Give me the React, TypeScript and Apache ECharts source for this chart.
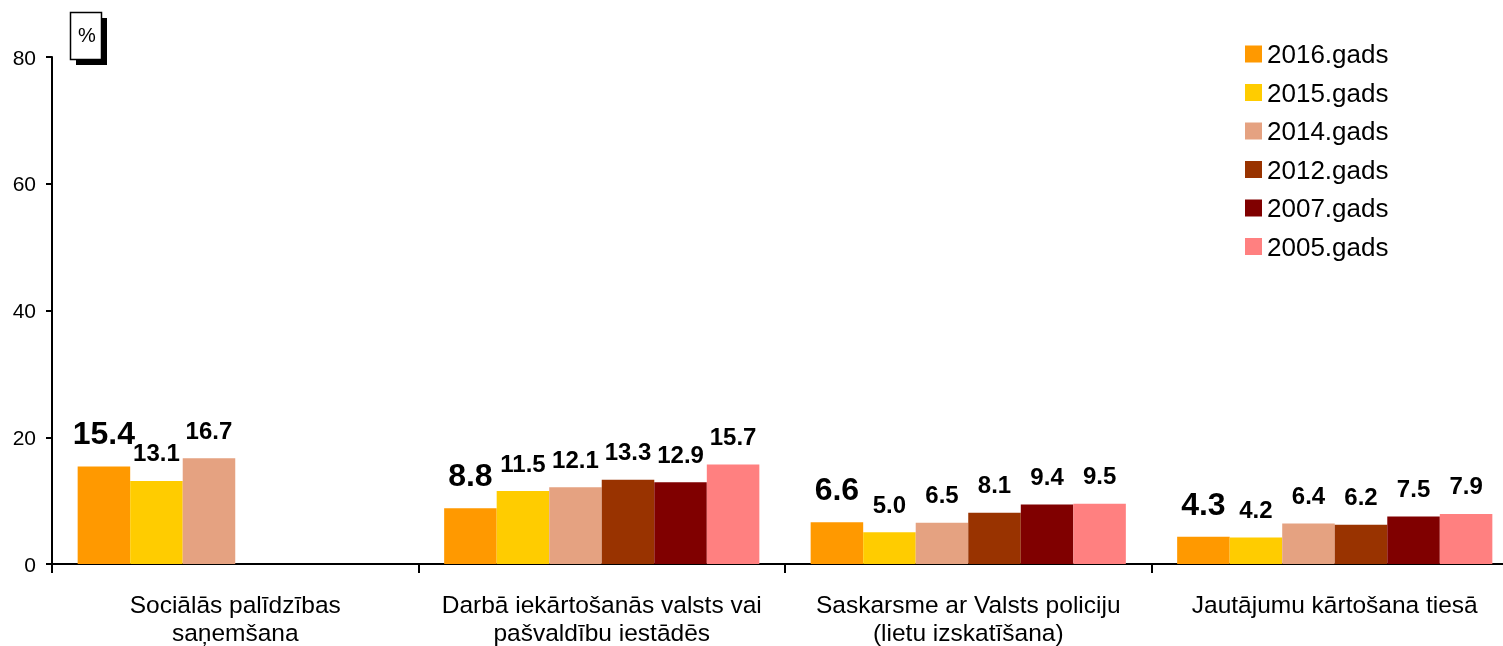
import React, { useEffect, useRef } from "react";
import * as echarts from "echarts";

const categories = [
  "Sociālās palīdzības\nsaņemšana",
  "Darbā iekārtošanās valsts vai\npašvaldību iestādēs",
  "Saskarsme ar Valsts policiju\n(lietu izskatīšana)",
  "Jautājumu kārtošana tiesā",
];
const seriesNames = ["2016.gads", "2015.gads", "2014.gads", "2012.gads", "2007.gads", "2005.gads"];
const colors = ["#FF9900", "#FFCC00", "#E5A281", "#993300", "#800000", "#FF8080"];
const v2016 = [15.4, 8.8, 6.6, 4.3];
const v2015 = [13.1, 11.5, 5.0, 4.2];
const v2014 = [16.7, 12.1, 6.5, 6.4];
const v2012 = [null, 13.3, 8.1, 6.2];
const v2007 = [null, 12.9, 9.4, 7.5];
const v2005 = [null, 15.7, 9.5, 7.9];
const allValues = [v2016, v2015, v2014, v2012, v2007, v2005];
const yTicks = [0, 20, 40, 60, 80];

const FONT = "'Liberation Sans', Arial, sans-serif";

export default function App() {
  const ref = useRef<HTMLDivElement>(null);
  useEffect(() => {
    if (!ref.current) return;
    const chart = echarts.init(ref.current, undefined, { renderer: "svg" });
    chart.setOption({
      animation: false,
      textStyle: { fontFamily: FONT },
      grid: { left: 52, top: 57, bottom: 82, right: 0, containLabel: false },
      legend: {
        orient: "vertical",
        left: 1245,
        top: 41,
        padding: 0,
        itemWidth: 17,
        itemHeight: 17,
        itemGap: 12.5,
        icon: "rect",
        textStyle: { fontSize: 26, color: "#000", fontFamily: FONT },
        data: seriesNames,
      },
      xAxis: {
        type: "category",
        data: categories,
        axisLine: { lineStyle: { color: "#000", width: 2 } },
        axisTick: { show: true, length: 9, lineStyle: { color: "#000", width: 2 }, alignWithLabel: false },
        axisLabel: { fontSize: 24.5, color: "#000", lineHeight: 28, margin: 26, interval: 0, fontFamily: FONT },
      },
      yAxis: {
        type: "value",
        min: 0,
        max: yTicks[yTicks.length - 1],
        interval: 20,
        axisLine: { show: true, lineStyle: { color: "#000", width: 2 } },
        axisTick: { show: true, length: 6, lineStyle: { color: "#000", width: 2 } },
        splitLine: { show: false },
        axisLabel: { fontSize: 21, color: "#000", margin: 16, fontFamily: FONT },
      },
      series: allValues.map((vals, i) => ({
        name: seriesNames[i],
        type: "bar",
        data: vals,
        barGap: "0%",
        barCategoryGap: "14%",
        itemStyle: { color: colors[i] },
        label: {
          show: true,
          position: "top",
          distance: i === 0 ? 17 : 16,
          color: "#000",
          fontWeight: "bold",
          fontSize: i === 0 ? 32 : 24,
          fontFamily: FONT,
          formatter: (p: any) => (p.value == null ? "" : Number(p.value).toFixed(1)),
        },
      })),
      graphic: [
        { type: "rect", shape: { x: 76, y: 18, width: 31, height: 47 }, style: { fill: "#000" } },
        { type: "rect", shape: { x: 70.5, y: 12.5, width: 31, height: 47 }, style: { fill: "#fff", stroke: "#000", lineWidth: 1.5 } },
        { type: "text", x: 87, y: 35, style: { text: "%", fontSize: 20, fill: "#000", align: "center", verticalAlign: "middle", fontFamily: FONT } },
      ],
    });
    return () => chart.dispose();
  }, []);
  return <div ref={ref} style={{ position: "fixed", left: 0, top: 0, width: 1518, height: 646 }} />;
}
